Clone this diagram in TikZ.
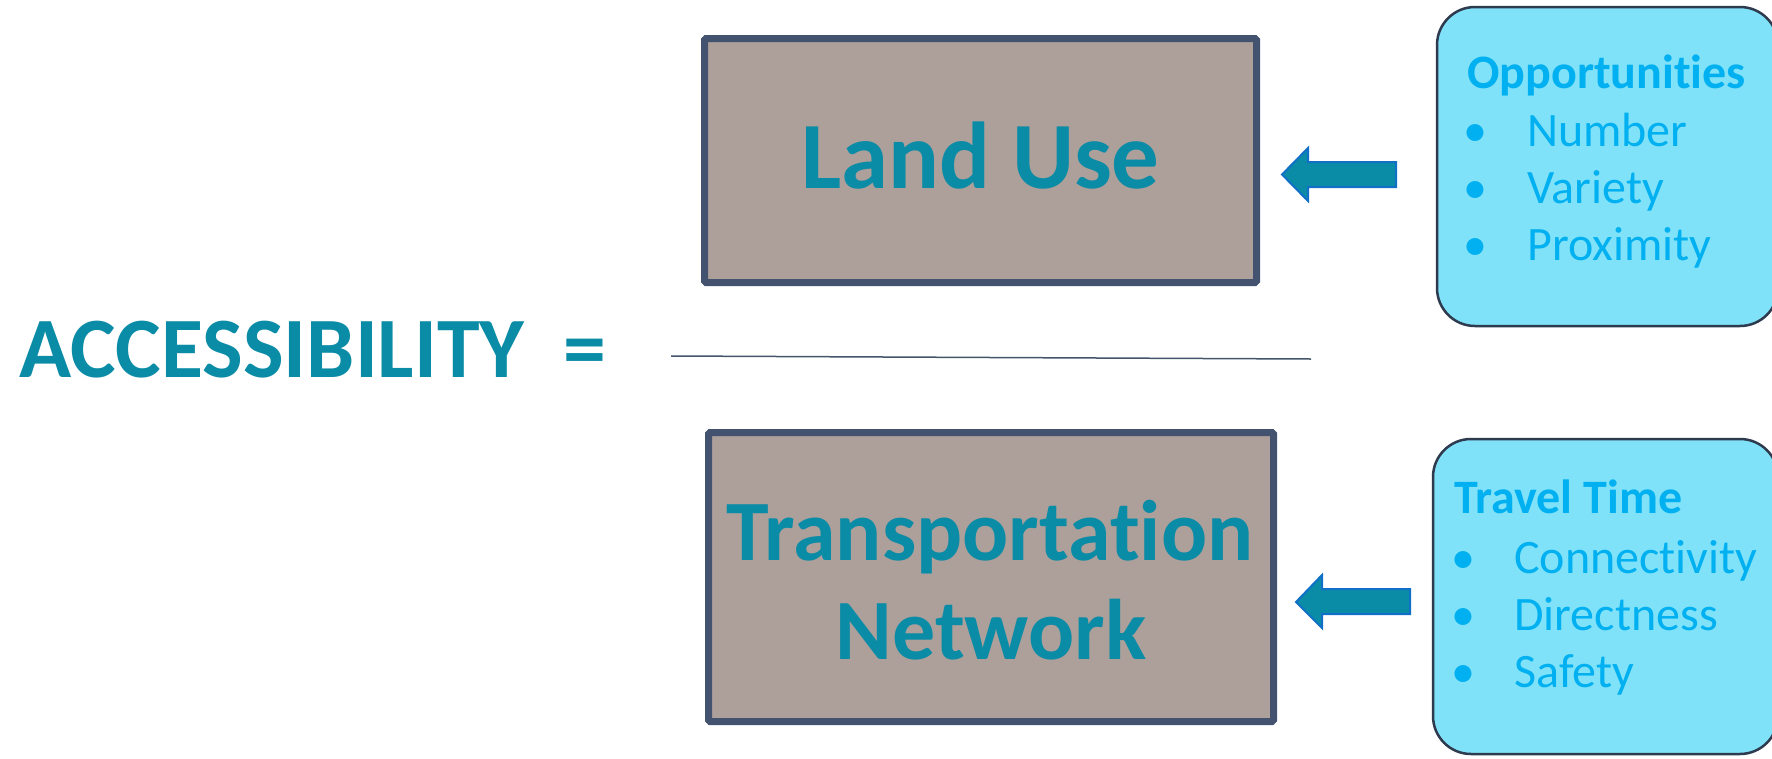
\documentclass[tikz,border=0pt]{standalone}
\usepackage{fontspec}
\setmainfont{Carlito}[Ligatures=NoCommon]
\definecolor{teal}{HTML}{0A8BA6}
\definecolor{boxfill}{HTML}{ADA09B}
\definecolor{boxline}{HTML}{42526F}
\definecolor{cyanfill}{HTML}{80E2F8}
\definecolor{cyanline}{HTML}{2E3A4E}
\definecolor{itemblue}{HTML}{00B0F0}
\definecolor{arrowline}{HTML}{1070C8}
\definecolor{ruleline}{HTML}{44546A}
\tikzset{
  bigbox/.style={draw=boxline, fill=boxfill, line width=7pt, rounded corners=1.5pt},
  infobox/.style={draw=cyanline, fill=cyanfill, line width=2.5pt, rounded corners=38pt},
  bigtext/.style={inner sep=0pt, text=teal, font=\bfseries\fontsize{86}{100}\selectfont},
  heading/.style={inner sep=0pt, anchor=base west, text=itemblue, font=\bfseries\fontsize{48}{56}\selectfont},
  item/.style={inner sep=0pt, anchor=base west, text=itemblue, font=\fontsize{48}{56}\selectfont},
  bul/.style={inner sep=0pt, anchor=base, text=itemblue, font=\fontsize{48}{56}\selectfont},
  blockarrow/.style={fill=teal, draw=arrowline, line width=2pt, line join=miter},
}
\begin{document}
\begin{tikzpicture}[x=1pt, y=-1pt]
\useasboundingbox (0,0) rectangle (1772,758);
\clip (0,0) rectangle (1772,758);

% main fraction: land use over transportation network
\draw[bigbox] (704.5,38.5) rectangle (1256.5,282.5);
\node[bigtext, anchor=base, font=\bfseries\fontsize{95}{110}\selectfont] (landuse) at (980.5,188) {Land Use};

\draw[bigbox] (708.5,432.5) rectangle (1273.5,721.5);
\node[bigtext, anchor=base] (transport) at (990,560) {Transportation};
\node[bigtext, anchor=base] (network) at (991,659) {Network};

\coordinate (barL) at (671,356);
\coordinate (barR) at (1311,359);
\draw[ruleline, line width=1.5pt] (barL) -- (barR);

\node[bigtext, anchor=base west] (access) at (19,377) {ACCESSIBILITY~~=};

% factor boxes on the right
\draw[infobox] (1437,7) rectangle (1778,326);
\node[heading] (opp) at (1467,88) {Opportunities};
\node[bul] (b1) at (1475,146) {•};
\node[item] (number) at (1527,146) {Number};
\node[bul] (b2) at (1475,203) {•};
\node[item] (variety) at (1527,203) {Variety};
\node[bul] (b3) at (1475,260) {•};
\node[item] (proximity) at (1527,260) {Proximity};

\draw[infobox] (1433,439) rectangle (1778,754);
\node[heading] (travel) at (1454,513) {Travel Time};
\node[bul] (b4) at (1463,573) {•};
\node[item] (connect) at (1514,573) {Connectivity};
\node[bul] (b5) at (1463,630) {•};
\node[item] (direct) at (1514,630) {Directness};
\node[bul] (b6) at (1463,687) {•};
\node[item] (safety) at (1514,687) {Safety};

% block arrows pointing at the boxes
\draw[blockarrow] (1282,174.5) -- (1308,148) -- (1308,162) -- (1396,162)
  -- (1396,187) -- (1308,187) -- (1308,201) -- cycle;
\draw[blockarrow] (1296,602) -- (1322,575) -- (1322,589) -- (1410,589)
  -- (1410,614) -- (1322,614) -- (1322,628) -- cycle;
\end{tikzpicture}
\end{document}
